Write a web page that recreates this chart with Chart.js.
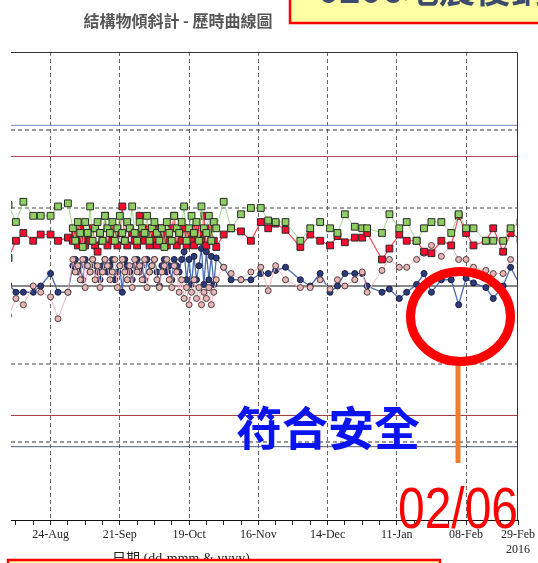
<!DOCTYPE html>
<html>
<head>
<meta charset="utf-8">
<script src="https://cdn.jsdelivr.net/npm/chart.js@4"></script>
<style>
body{margin:0;background:#fff;}
canvas{display:block;}
</style>
</head>
<body>
<canvas id="tilt" width="538" height="563"></canvas>
<script>
// days counted from 08-Aug-2015
const days = [-1,2,5,9,12,16,19,23,
25,26,27,28,29,30,31,32,33,34,35,36,37,38,39,40,41,42,43,44,45,46,47,48,49,50,51,52,53,54,
55,56,57,58,59,60,61,62,63,64,65,66,67,68,69,70,71,72,73,74,75,76,77,78,79,80,81,82,83,
86,89,93,97,101,104,107,111,117,121,125,129,132,135,139,142,144,150,153,157,160,164,167,
170,174,178,181,184,187,192,195,199,202,206];

const greenVals = [5.2,4.1,5.4,4.5,4.5,4.5,5.1,5.3,
3.7,2.9,4.1,3.4,2.5,4.1,3.4,5.1,2.9,3.7,4.1,3.4,2.9,4.5,3.7,3.4,4.1,2.9,3.7,4.5,
3.4,2.9,4.1,3.7,5.1,3.4,2.9,4.1,3.7,3.4,4.5,2.9,3.7,4.1,3.4,2.9,3.7,2.5,4.1,3.4,
2.9,4.5,3.7,3.4,4.1,5.1,2.9,3.7,4.5,3.4,4.1,2.9,5.1,3.7,3.4,4.5,2.9,4.1,3.7,
5.4,3.7,4.6,5.0,5.0,4.2,4.1,4.1,2.9,3.7,4.1,3.7,3.4,4.6,3.8,3.7,3.7,3.4,4.6,3.7,4.1,2.9,3.7,
4.1,4.1,3.4,4.6,3.7,3.7,2.9,2.9,2.9,3.7,4.1];

const redVals = [1.8,2.9,3.4,2.9,3.3,3.3,2.9,3.1,
2.9,3.4,2.6,3.7,2.9,2.6,3.4,2.9,3.7,2.6,2.2,3.4,2.9,4.5,2.6,3.4,2.9,3.7,2.6,3.4,
5.1,2.9,2.6,3.7,3.4,2.9,2.6,4.5,3.4,2.9,3.7,2.6,3.4,2.9,2.6,3.7,2.9,3.4,2.6,2.9,
3.7,4.5,2.6,3.4,2.9,3.7,2.6,3.4,2.9,2.6,3.7,3.4,2.9,4.5,2.6,3.4,3.7,2.9,2.5,
3.3,3.7,3.5,2.9,4.1,3.7,4.0,3.6,2.5,3.3,2.9,2.6,3.2,2.8,3.1,3.1,3.4,1.7,2.4,3.3,2.9,2.9,2.2,
2.1,2.9,2.6,4.5,3.4,2.6,2.9,3.7,2.2,3.4,3.0];

const blueVals = [0.1,-0.4,-0.4,-0.4,0,0.8,-0.4,-0.4,
1.3,1.7,0.9,1.3,0.4,1.7,1.3,0.9,1.7,1.3,0.9,0.4,1.3,1.7,0.9,1.3,1.7,0.4,0.9,1.3,
-0.4,1.7,1.3,0.9,0.4,1.3,1.7,0.9,1.3,0.4,1.7,0.9,1.3,1.7,0.9,0,1.3,1.7,0.9,1.3,
0.4,1.7,1.3,0.9,1.7,2.2,0.4,1.7,0.1,1.9,0.4,1.3,2.4,0.1,2.2,0.4,1.9,0.1,1.8,
1.2,0.4,0.4,0.4,0.8,0.8,1.0,1.2,0.4,0,0.8,-0.4,0,0.8,0.8,0.8,0,-0.4,-0.2,-0.8,-0.4,0.1,0.8,
-0.4,0.4,0.4,-1.2,0.5,0.2,-0.1,-0.8,0,1.2,0];

const pinkVals = [-1.9,-0.8,-1.2,0,-0.4,-0.7,-2.1,-0.4,
1.7,0.9,1.3,0.4,1.7,-0.1,1.3,0.9,1.7,0.4,1.3,-0.1,0.9,1.7,1.3,0.4,0.9,1.7,-0.1,1.3,
1.7,0.9,0.4,1.3,-0.1,1.7,0.9,1.3,0.4,1.7,-0.1,0.9,1.3,1.7,0.4,-0.1,0.9,1.3,1.7,0.4,
-0.1,1.3,0.9,-0.4,0.4,-0.8,-0.1,-1.2,-0.4,0.4,-0.8,-0.1,-1.2,-0.4,-0.8,-0.1,-1.2,-0.4,0.4,
1.2,0.8,0.4,0.9,1.2,-0.3,1.3,0.4,-0.1,-0.1,0.4,-0.2,0.4,0,0.4,0.9,-0.4,1.0,1.7,1.2,1.2,1.7,2.1,
2.6,1.9,2.6,1.7,1.7,1.2,1.0,0.8,0.8,1.7,1.3];

// limit lines
const limitVals = [10.3, 10, 8.3, 5, 0, -5, -8.3, -10, -10.3];
const limitColors = ['#7484c4','#333','#b54a58','#444','#111','#444','#a33c40','#333','#4d5a78'];
const limitDash = [[],[4,3],[],[4,3],[],[4,3],[],[4,3],[]];

const tickDays = [2,9,16,23,30,37,44,51,58,65,72,79,86,93,100,107,114,121,128,135,142,149,156,163,170,177,184,191,198,205];
const majorDays = [16,44,72,100,128,156,184,205];
const tickLabels = ['24-Aug','21-Sep','19-Oct','16-Nov','14-Dec','11-Jan','08-Feb',['29-Feb','2016']];

const pts = vals => vals.map((v, i) => ({x: days[i], y: v}));

const datasets = [
  {data: pts(greenVals), borderColor:'#a2d48a', borderWidth:1, pointStyle:'rect', pointRadius:4.8,
   pointBackgroundColor:'#8fcf62', pointBorderColor:'#2a2a2a', pointBorderWidth:1, order:0},
  {data: pts(redVals), borderColor:'#ff4455', borderWidth:1.2, pointStyle:'rect', pointRadius:4.8,
   pointBackgroundColor:'#ff0a2e', pointBorderColor:'#2a2a2a', pointBorderWidth:1, order:1},
  {data: pts(pinkVals), borderColor:'#f2b6be', borderWidth:1, pointStyle:'circle', pointRadius:3,
   pointBackgroundColor:'#e9b4b4', pointBorderColor:'#4a4040', pointBorderWidth:1, order:2},
  {data: pts(blueVals), borderColor:'#4d6bb0', borderWidth:1.3, pointStyle:'circle', pointRadius:3,
   pointBackgroundColor:'#2b3c7c', pointBorderColor:'#1c1c3a', pointBorderWidth:1, order:3}
];

limitVals.forEach((v, i) => {
  datasets.push({data:[{x:0,y:v},{x:205,y:v}], borderColor:limitColors[i], borderWidth:1,
    borderDash:limitDash[i], pointRadius:0, order:10});
});

const decor = {
  id: 'decor',
  afterDraw(chart){
    const ctx = chart.ctx, a = chart.chartArea;
    ctx.save();
    // frame top + right
    ctx.strokeStyle = '#333';
    ctx.lineWidth = 1;
    ctx.beginPath();
    ctx.moveTo(a.left, a.top + 0.5);
    ctx.lineTo(a.right - 0.5, a.top + 0.5);
    ctx.lineTo(a.right - 0.5, a.bottom);
    ctx.stroke();

    // title
    ctx.fillStyle = '#555';
    ctx.font = 'bold 16px "Noto Sans CJK TC"';
    ctx.textAlign = 'center';
    ctx.textBaseline = 'middle';
    ctx.fillText('結構物傾斜計 - 歷時曲線圖', 178, 21);

    // top note box
    ctx.fillStyle = '#ffffa4';
    ctx.fillRect(290, -5, 260, 28);
    ctx.strokeStyle = '#ff0000';
    ctx.lineWidth = 2.5;
    ctx.strokeRect(290, -5, 260, 28);
    ctx.fillStyle = '#3d4c6e';
    ctx.font = 'bold 36px "Noto Sans CJK TC"';
    ctx.textAlign = 'left';
    ctx.textBaseline = 'alphabetic';
    ctx.fillText('0206地震後鋼棧橋', 318, 3);

    // axis title
    ctx.fillStyle = '#222';
    ctx.font = '14px "Liberation Serif", "Noto Sans CJK TC"';
    ctx.textAlign = 'center';
    ctx.fillText('日期 (dd-mmm & yyyy)', 181, 563);

    // bottom note box
    ctx.fillStyle = '#ffffa4';
    ctx.fillRect(8, 560, 432, 10);
    ctx.strokeStyle = '#ff0000';
    ctx.lineWidth = 2.5;
    ctx.strokeRect(8, 560, 432, 10);

    // circle
    ctx.strokeStyle = '#ff0000';
    ctx.lineWidth = 9;
    ctx.beginPath();
    ctx.ellipse(460.5, 316.5, 50, 45, 0, 0, Math.PI * 2);
    ctx.stroke();

    // pointer
    ctx.strokeStyle = '#ed7d31';
    ctx.lineWidth = 5;
    ctx.beginPath();
    ctx.moveTo(458, 366);
    ctx.lineTo(458, 463);
    ctx.stroke();

    ctx.fillStyle = '#0a14f0';
    ctx.font = 'bold 46px "Noto Sans CJK TC"';
    ctx.textAlign = 'center';
    ctx.textBaseline = 'middle';
    ctx.fillText('符合安全', 328, 428);

    ctx.fillStyle = '#ff0000';
    ctx.font = '58px "Liberation Sans"';
    ctx.textAlign = 'left';
    ctx.textBaseline = 'alphabetic';
    ctx.fillText('02/06', 398, 528, 120);
    ctx.restore();
  }
};

new Chart(document.getElementById('tilt'), {
  type: 'line',
  data: {datasets: datasets},
  options: {
    responsive: false,
    animation: false,
    layout: {padding: {left: 11, top: 52, right: 17, bottom: 0}},
    plugins: {legend: {display: false}, tooltip: {enabled: false}},
    scales: {
      x: {
        type: 'linear', min: 0, max: 205,
        afterBuildTicks: axis => { axis.ticks = tickDays.map(v => ({value: v})); },
        afterFit: axis => { axis.height = 43; },
        ticks: {
          autoSkip: false, maxRotation: 0, padding: 3, color: '#222',
          font: {family: '"Liberation Serif"', size: 12},
          callback: v => { const i = majorDays.indexOf(v); return i >= 0 ? tickLabels[i] : ''; }
        },
        grid: {
          color: c => (c.tick && majorDays.indexOf(c.tick.value) >= 0 && c.tick.value !== 205) ? '#666' : 'rgba(0,0,0,0)',
          tickColor: '#222', tickBorderDash: [], tickLength: 5, lineWidth: 1
        },
        border: {display: true, color: '#111', width: 1, dash: [4, 3]}
      },
      y: {display: false, min: -15, max: 15}
    }
  },
  plugins: [decor]
});
</script>
</body>
</html>
